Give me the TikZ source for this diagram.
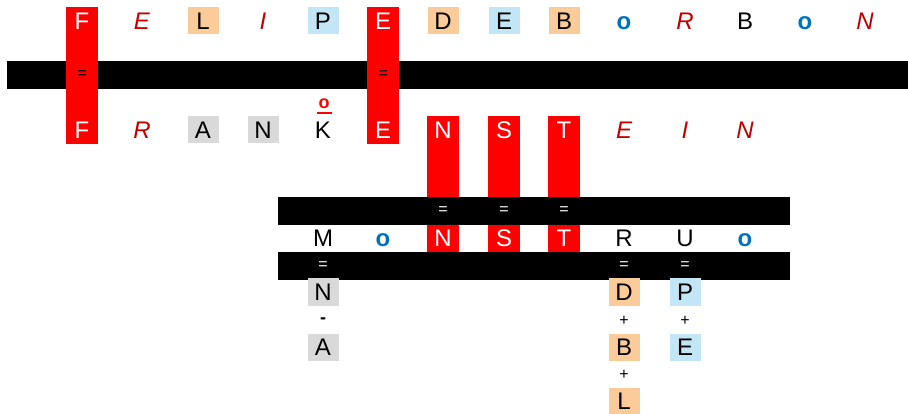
\documentclass[tikz,border=0pt]{standalone}
\usepackage{fontspec}
\setmainfont{Liberation Sans}
\definecolor{peach}{HTML}{FCCB9A}
\definecolor{skyb}{HTML}{C2E6F5}
\definecolor{lgray}{HTML}{D9D9D9}
\definecolor{dred}{HTML}{C00000}
\definecolor{oblue}{HTML}{0070C0}
\tikzset{
  ltr/.style={font=\fontsize{24}{24}\selectfont, inner sep=0pt, minimum width=31pt, minimum height=27pt, text height=17.2pt, text depth=0pt},
  redb/.style={ltr, fill=red, text=white},
  peachb/.style={ltr, fill=peach},
  blueb/.style={ltr, fill=skyb},
  grayb/.style={ltr, fill=lgray},
  ital/.style={ltr, text=dred, font=\fontsize{24}{24}\selectfont\itshape},
  ob/.style={ltr, text=oblue, font=\fontsize{24}{24}\selectfont\bfseries},
  bar/.style={fill=black},
  sym/.style={font=\fontsize{16}{16}\selectfont, inner sep=0pt},
  symw/.style={sym, text=white}
}
\begin{document}
\begin{tikzpicture}[x=1pt,y=-1pt]
\useasboundingbox (0,0) rectangle (908,414);
% bars
\fill[bar] (7,61) rectangle (908,89);
% row 1
\node[redb]   (a1)  at (82,21)  {F};
\node[ital]   (a2)  at (142,21) {E};
\node[peachb] (a3)  at (203,21) {L};
\node[ital]   (a4)  at (263,21) {I};
\node[blueb]  (a5)  at (323,21) {P};
\node[redb]   (a6)  at (383,21) {E};
\node[peachb] (a7)  at (443,21) {D};
\node[blueb]  (a8)  at (504,21) {E};
\node[peachb] (a9)  at (564,21) {B};
\node[ob]     (a10) at (624,21) {o};
\node[ital]   (a11) at (685,21) {R};
\node[ltr]    (a12) at (745,21) {B};
\node[ob]     (a13) at (805,21) {o};
\node[ital]   (a14) at (865,21) {N};
% row 2
\node[redb]   (b1)  at (82,130)  {F};
\node[ital]   (b2)  at (142,130) {R};
\node[grayb]  (b3)  at (203,130) {A};
\node[grayb]  (b4)  at (263,130) {N};
\node[ltr]    (b5)  at (323,130) {K};
\node[redb]   (b6)  at (383,130) {E};
\node[redb]   (b7)  at (443,130) {N};
\node[redb]   (b8)  at (504,130) {S};
\node[redb]   (b9)  at (564,130) {T};
\node[ital]   (b10) at (624,130) {E};
\node[ital]   (b11) at (685,130) {I};
\node[ital]   (b12) at (745,130) {N};
% red links through bar 1
\fill[red] (a1.north west) rectangle (b1.south east);
\fill[red] (a6.north west) rectangle (b6.south east);
\node[redb] at (a1) {F};
\node[redb] at (b1) {F};
\node[redb] at (a6) {E};
\node[redb] at (b6) {E};
\node[sym] (e1) at (82,75) {=};
\node[sym] (e2) at (383,75) {=};
% o above K
\node[text=red, font=\fontsize{18}{18}\selectfont\bfseries, inner sep=0pt] (ok) at (324,104) {o};
\draw[red, line width=2.2pt] (317,113) -- (332,113);
% row 3
\node[ltr]    (c5)  at (323,238) {M};
\node[ob]     (c6)  at (383,238) {o};
\node[redb]   (c7)  at (443,238) {N};
\node[redb]   (c8)  at (504,238) {S};
\node[redb]   (c9)  at (564,238) {T};
\node[ltr]    (c10) at (624,238) {R};
\node[ltr]    (c11) at (685,238) {U};
\node[ob]     (c12) at (745,238) {o};
% red links N S T
\fill[red] (b7.north west) rectangle (c7.south east);
\fill[red] (b8.north west) rectangle (c8.south east);
\fill[red] (b9.north west) rectangle (c9.south east);
\node[redb] at (b7) {N};
\node[redb] at (b8) {S};
\node[redb] at (b9) {T};
\node[redb] at (c7) {N};
\node[redb] at (c8) {S};
\node[redb] at (c9) {T};
% bars 2, 3
\fill[bar] (278,197) rectangle (790,225);
\fill[bar] (278,252) rectangle (790,280);
\node[symw] (f1) at (443,211) {=};
\node[symw] (f2) at (504,211) {=};
\node[symw] (f3) at (564,211) {=};
\node[symw] (g1) at (323,266) {=};
\node[symw] (g2) at (624,266) {=};
\node[symw] (g3) at (685,266) {=};
% rows 4-6
\node[grayb]  (d5)  at (323,292) {N};
\node[peachb] (d10) at (624,292) {D};
\node[blueb]  (d11) at (685,292) {P};
\node[sym, font=\fontsize{18}{18}\selectfont\bfseries] (h1) at (323,321) {-};
\node[sym] (h2) at (624,321) {+};
\node[sym] (h3) at (685,321) {+};
\node[grayb]  (e5)  at (323,347) {A};
\node[peachb] (e10) at (624,347) {B};
\node[blueb]  (e11) at (685,347) {E};
\node[sym] (h4) at (624,375) {+};
\node[peachb] (l10) at (624,401) {L};
\end{tikzpicture}
\end{document}
